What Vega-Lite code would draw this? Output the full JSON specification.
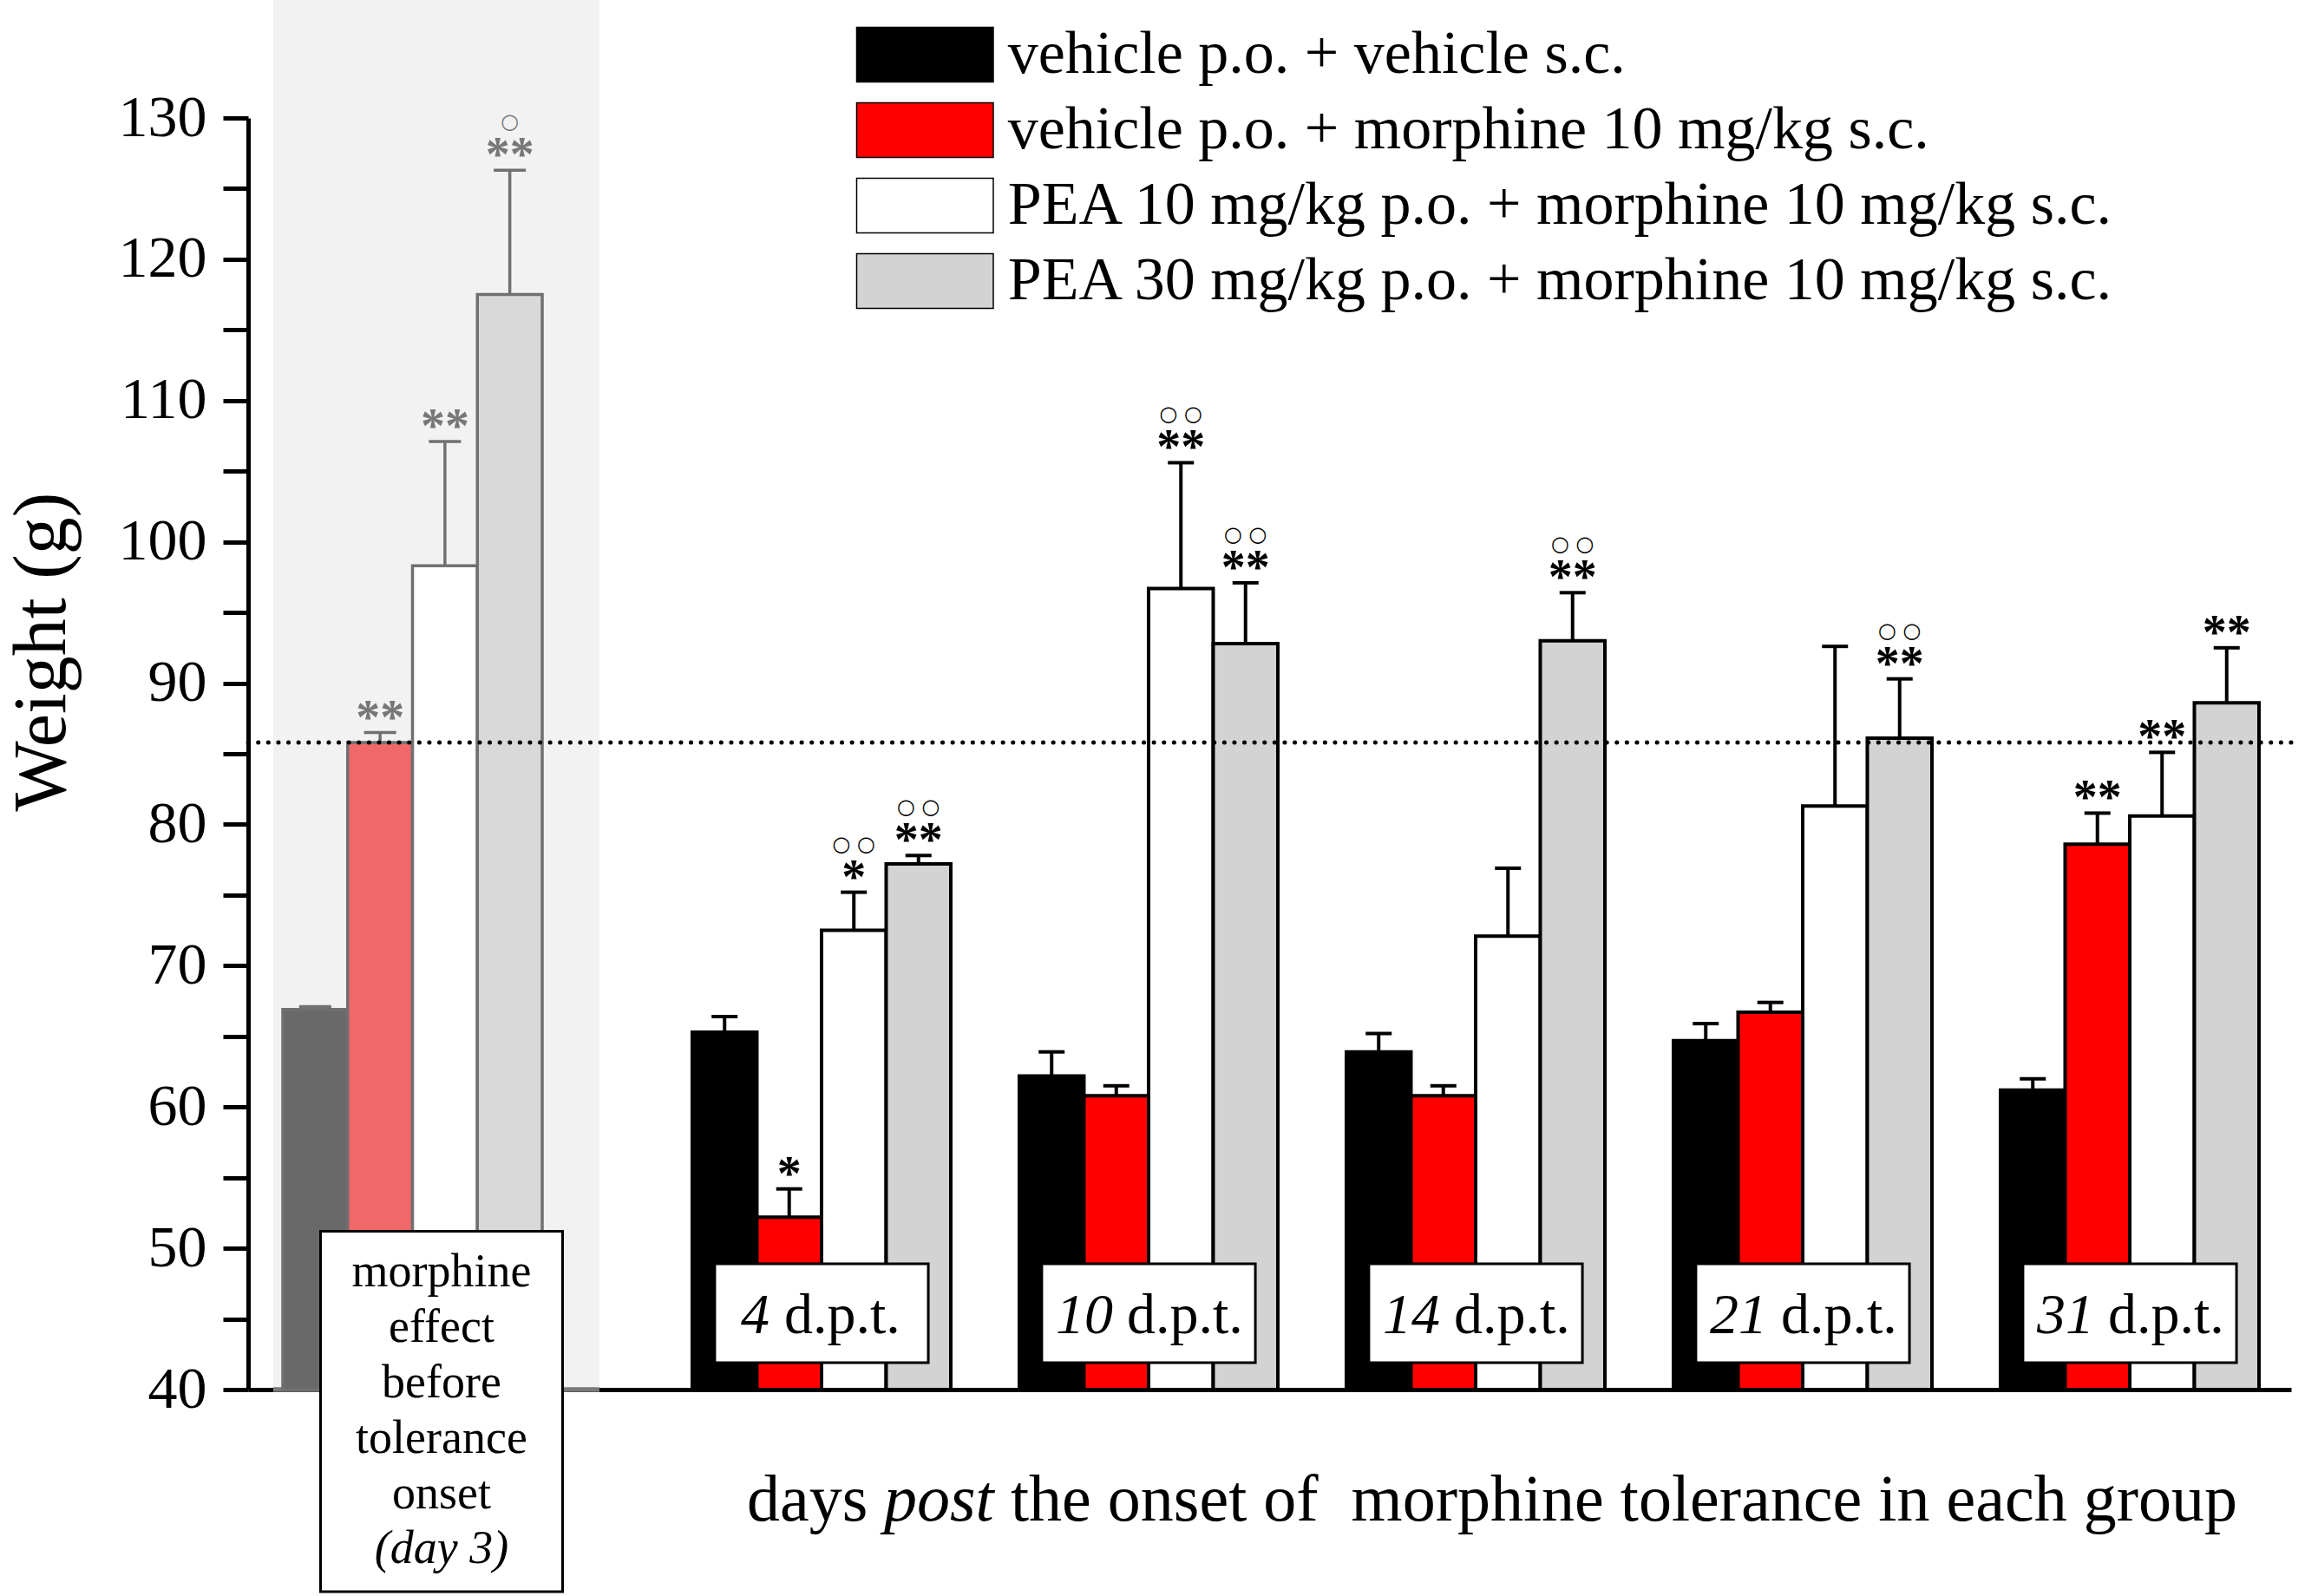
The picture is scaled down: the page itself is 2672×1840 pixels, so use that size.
{
  "$schema": "https://vega.github.io/schema/vega-lite/v6.json",
  "width": 2355,
  "height": 1466,
  "autosize": {"type": "none"},
  "padding": {"left": 286, "top": 136, "right": 31, "bottom": 238},
  "background": "white",
  "config": {
    "view": {"stroke": null},
    "text": {"font": "Liberation Serif", "color": "black"}
  },
  "datasets": {
    "day3": [
      {"day": "day 3", "treatment": "vehicle p.o. + vehicle s.c.", "mean": 66.9, "upper": 67.1, "sig": "", "circ": ""},
      {"day": "day 3", "treatment": "vehicle p.o. + morphine 10 mg/kg s.c.", "mean": 85.8, "upper": 86.5, "sig": "**", "circ": ""},
      {"day": "day 3", "treatment": "PEA 10 mg/kg p.o. + morphine 10 mg/kg s.c.", "mean": 98.3, "upper": 107.1, "sig": "**", "circ": ""},
      {"day": "day 3", "treatment": "PEA 30 mg/kg p.o. + morphine 10 mg/kg s.c.", "mean": 117.5, "upper": 126.3, "sig": "**", "circ": "○"}
    ],
    "later": [
      {"dpt": "4", "treatment": "vehicle p.o. + vehicle s.c.", "mean": 65.3, "upper": 66.4, "sig": "", "circ": ""},
      {"dpt": "4", "treatment": "vehicle p.o. + morphine 10 mg/kg s.c.", "mean": 52.2, "upper": 54.2, "sig": "*", "circ": ""},
      {"dpt": "4", "treatment": "PEA 10 mg/kg p.o. + morphine 10 mg/kg s.c.", "mean": 72.5, "upper": 75.2, "sig": "*", "circ": "○ ○"},
      {"dpt": "4", "treatment": "PEA 30 mg/kg p.o. + morphine 10 mg/kg s.c.", "mean": 77.2, "upper": 77.8, "sig": "**", "circ": "○ ○"},
      {"dpt": "10", "treatment": "vehicle p.o. + vehicle s.c.", "mean": 62.2, "upper": 63.9, "sig": "", "circ": ""},
      {"dpt": "10", "treatment": "vehicle p.o. + morphine 10 mg/kg s.c.", "mean": 60.8, "upper": 61.5, "sig": "", "circ": ""},
      {"dpt": "10", "treatment": "PEA 10 mg/kg p.o. + morphine 10 mg/kg s.c.", "mean": 96.7, "upper": 105.6, "sig": "**", "circ": "○ ○"},
      {"dpt": "10", "treatment": "PEA 30 mg/kg p.o. + morphine 10 mg/kg s.c.", "mean": 92.8, "upper": 97.1, "sig": "**", "circ": "○ ○"},
      {"dpt": "14", "treatment": "vehicle p.o. + vehicle s.c.", "mean": 63.9, "upper": 65.2, "sig": "", "circ": ""},
      {"dpt": "14", "treatment": "vehicle p.o. + morphine 10 mg/kg s.c.", "mean": 60.8, "upper": 61.5, "sig": "", "circ": ""},
      {"dpt": "14", "treatment": "PEA 10 mg/kg p.o. + morphine 10 mg/kg s.c.", "mean": 72.1, "upper": 76.9, "sig": "", "circ": ""},
      {"dpt": "14", "treatment": "PEA 30 mg/kg p.o. + morphine 10 mg/kg s.c.", "mean": 93.0, "upper": 96.4, "sig": "**", "circ": "○ ○"},
      {"dpt": "21", "treatment": "vehicle p.o. + vehicle s.c.", "mean": 64.7, "upper": 65.9, "sig": "", "circ": ""},
      {"dpt": "21", "treatment": "vehicle p.o. + morphine 10 mg/kg s.c.", "mean": 66.7, "upper": 67.4, "sig": "", "circ": ""},
      {"dpt": "21", "treatment": "PEA 10 mg/kg p.o. + morphine 10 mg/kg s.c.", "mean": 81.3, "upper": 92.6, "sig": "", "circ": ""},
      {"dpt": "21", "treatment": "PEA 30 mg/kg p.o. + morphine 10 mg/kg s.c.", "mean": 86.1, "upper": 90.3, "sig": "**", "circ": "○ ○"},
      {"dpt": "31", "treatment": "vehicle p.o. + vehicle s.c.", "mean": 61.2, "upper": 62.0, "sig": "", "circ": ""},
      {"dpt": "31", "treatment": "vehicle p.o. + morphine 10 mg/kg s.c.", "mean": 78.6, "upper": 80.8, "sig": "**", "circ": ""},
      {"dpt": "31", "treatment": "PEA 10 mg/kg p.o. + morphine 10 mg/kg s.c.", "mean": 80.6, "upper": 85.1, "sig": "**", "circ": ""},
      {"dpt": "31", "treatment": "PEA 30 mg/kg p.o. + morphine 10 mg/kg s.c.", "mean": 88.6, "upper": 92.5, "sig": "**", "circ": ""}
    ],
    "boxes": [
      {"dpt": "4"}, {"dpt": "10"}, {"dpt": "14"}, {"dpt": "21"}, {"dpt": "31"}
    ]
  },
  "layer": [
    {
      "data": {"name": "day3"},
      "encoding": {
        "x": {
          "field": "day", "type": "nominal",
          "scale": {"type": "band", "domain": ["day 3"], "range": [29, 405], "paddingInner": 0, "paddingOuter": 0},
          "axis": null
        }
      },
      "layer": [
        {
          "data": {"values": [{"day": "day 3"}]},
          "mark": {"type": "bar", "fill": "#f2f2f2"},
          "encoding": {
            "y": {"datum": 138.35, "title": "Weight (g)", "scale": {"domain": [40, 130], "zero": false, "nice": false}},
            "y2": {"datum": 40}
          }
        },
        {
          "data": {"values": [{"day": "day 3"}]},
          "mark": {"type": "bar", "fill": "#7a7a7a"},
          "encoding": {
            "y": {"datum": 40.17, "title": "Weight (g)", "scale": {"domain": [40, 130], "zero": false, "nice": false}},
            "y2": {"datum": 39.83}
          }
        },
        {
          "mark": {"type": "bar", "stroke": "#707070", "strokeWidth": 3.5},
          "encoding": {
            "xOffset": {
              "field": "treatment", "type": "nominal",
              "scale": {"type": "band", "domain": ["vehicle p.o. + vehicle s.c.", "vehicle p.o. + morphine 10 mg/kg s.c.", "PEA 10 mg/kg p.o. + morphine 10 mg/kg s.c.", "PEA 30 mg/kg p.o. + morphine 10 mg/kg s.c."], "paddingInner": 0, "paddingOuter": 0.515, "align": 0.143}
            },
            "y": {
              "field": "mean", "type": "quantitative", "title": "Weight (g)",
              "scale": {"domain": [40, 130], "zero": false, "nice": false},
              "axis": {
                "title": "Weight (g)",
                "values": [40, 45, 50, 55, 60, 65, 70, 75, 80, 85, 90, 95, 100, 105, 110, 115, 120, 125, 130],
                "labelExpr": "datum.value % 10 === 0 ? datum.label : ''",
                "tickSize": 29,
                "tickWidth": 5, "tickColor": "black",
                "domainColor": "black", "domainWidth": 5,
                "grid": false,
                "labelFont": "Liberation Serif", "labelFontSize": 68, "labelColor": "black", "labelPadding": 19,
                "titleFont": "Liberation Serif", "titleFontSize": 86, "titleFontWeight": "normal", "titleColor": "black", "titlePadding": 44,
                "titleY": 615,
                "encode": {"ticks": {"update": {"x2": {"signal": "datum.value % 10 === 0 ? -29 : -15"}}}}
              }
            },
            "y2": {"datum": 40},
            "fill": {
              "field": "treatment", "type": "nominal",
              "scale": {"domain": ["vehicle p.o. + vehicle s.c.", "vehicle p.o. + morphine 10 mg/kg s.c.", "PEA 10 mg/kg p.o. + morphine 10 mg/kg s.c.", "PEA 30 mg/kg p.o. + morphine 10 mg/kg s.c."], "range": ["#696969", "#f06868", "#ffffff", "#d9d9d9"]},
              "legend": null
            }
          }
        },
        {
          "mark": {"type": "rule", "color": "#707070", "strokeWidth": 3.5},
          "encoding": {
            "xOffset": {"field": "treatment", "type": "nominal"},
            "y": {"field": "mean", "type": "quantitative", "title": "Weight (g)", "scale": {"domain": [40, 130], "zero": false, "nice": false}},
            "y2": {"field": "upper"}
          }
        },
        {
          "mark": {"type": "tick", "orient": "horizontal", "size": 37, "thickness": 3.5, "color": "#707070", "opacity": 1},
          "encoding": {
            "xOffset": {"field": "treatment", "type": "nominal"},
            "y": {"field": "upper", "type": "quantitative", "title": "Weight (g)", "scale": {"domain": [40, 130], "zero": false, "nice": false}}
          }
        },
        {
          "mark": {"type": "text", "fontSize": 56, "fontWeight": "bold", "dy": 1, "baseline": "alphabetic", "color": "#777777"},
          "encoding": {
            "xOffset": {"field": "treatment", "type": "nominal"},
            "y": {"field": "upper", "type": "quantitative", "title": "Weight (g)", "scale": {"domain": [40, 130], "zero": false, "nice": false}},
            "text": {"field": "sig"}
          }
        },
        {
          "mark": {"type": "text", "font": "DejaVu Sans", "fontSize": 24, "dy": -48, "baseline": "alphabetic", "color": "#777777"},
          "encoding": {
            "xOffset": {"field": "treatment", "type": "nominal"},
            "y": {"field": "upper", "type": "quantitative", "title": "Weight (g)", "scale": {"domain": [40, 130], "zero": false, "nice": false}},
            "text": {"field": "circ"}
          }
        },
        {
          "data": {"values": [{"day": "day 3"}]},
          "mark": {"type": "bar", "fill": "white", "stroke": "black", "strokeWidth": 3, "xOffset": 6, "width": {"band": 0.742}},
          "encoding": {
            "y": {"datum": 51.2, "title": "Weight (g)", "scale": {"domain": [40, 130], "zero": false, "nice": false}},
            "y2": {"datum": 25.7}
          }
        },
        {
          "data": {"values": [{"day": "day 3"}]},
          "mark": {"type": "text", "fontSize": 54, "lineHeight": 64, "align": "center", "baseline": "alphabetic", "dx": 6,
                   "text": ["morphine", "effect", "before", "tolerance", "onset"]},
          "encoding": {
            "y": {"datum": 47.3, "title": "Weight (g)", "scale": {"domain": [40, 130], "zero": false, "nice": false}}
          }
        },
        {
          "data": {"values": [{"day": "day 3"}]},
          "mark": {"type": "text", "fontSize": 54, "fontStyle": "italic", "align": "center", "baseline": "alphabetic", "dx": 6, "text": "(day 3)"},
          "encoding": {
            "y": {"datum": 27.7, "title": "Weight (g)", "scale": {"domain": [40, 130], "zero": false, "nice": false}}
          }
        }
      ]
    },
    {
      "data": {"name": "later"},
      "encoding": {
        "x": {
          "field": "dpt", "type": "nominal",
          "scale": {"type": "band", "domain": ["4", "10", "14", "21", "31"], "paddingInner": 0.2095, "paddingOuter": 0.7281, "align": 0.9326},
          "axis": {"labels": false, "ticks": false, "title": null, "domainColor": "black", "domainWidth": 5, "grid": false}
        }
      },
      "layer": [
        {
          "mark": {"type": "bar", "stroke": "black", "strokeWidth": 4},
          "encoding": {
            "xOffset": {
              "field": "treatment", "type": "nominal",
              "scale": {"type": "band", "domain": ["vehicle p.o. + vehicle s.c.", "vehicle p.o. + morphine 10 mg/kg s.c.", "PEA 10 mg/kg p.o. + morphine 10 mg/kg s.c.", "PEA 30 mg/kg p.o. + morphine 10 mg/kg s.c."], "paddingInner": 0, "paddingOuter": 0}
            },
            "y": {"field": "mean", "type": "quantitative", "title": "Weight (g)", "scale": {"domain": [40, 130], "zero": false, "nice": false}},
            "y2": {"datum": 40},
            "fill": {
              "field": "treatment", "type": "nominal",
              "scale": {"domain": ["vehicle p.o. + vehicle s.c.", "vehicle p.o. + morphine 10 mg/kg s.c.", "PEA 10 mg/kg p.o. + morphine 10 mg/kg s.c.", "PEA 30 mg/kg p.o. + morphine 10 mg/kg s.c."], "range": ["#000000", "#ff0000", "#ffffff", "#d3d3d3"]},
              "legend": {
                "orient": "none", "legendX": 698, "legendY": -108, "title": null, "padding": 0,
                "symbolType": "M-2.5,-1L2.5,-1L2.5,1L-2.5,1Z", "symbolSize": 3969, "symbolOffset": 47.25,
                "labelFont": "Liberation Serif", "labelFontSize": 70, "labelColor": "black", "labelLimit": 0, "labelOffset": 60.5,
                "rowPadding": 17,
                "encode": {"symbols": {"update": {"stroke": {"value": "black"}, "strokeWidth": {"value": 4}, "opacity": {"value": 1}}}}
              }
            }
          }
        },
        {
          "mark": {"type": "rule", "color": "black", "strokeWidth": 4},
          "encoding": {
            "xOffset": {"field": "treatment", "type": "nominal"},
            "y": {"field": "mean", "type": "quantitative", "title": "Weight (g)", "scale": {"domain": [40, 130], "zero": false, "nice": false}},
            "y2": {"field": "upper"}
          }
        },
        {
          "mark": {"type": "tick", "orient": "horizontal", "size": 30, "thickness": 4, "color": "black", "opacity": 1},
          "encoding": {
            "xOffset": {"field": "treatment", "type": "nominal"},
            "y": {"field": "upper", "type": "quantitative", "title": "Weight (g)", "scale": {"domain": [40, 130], "zero": false, "nice": false}}
          }
        },
        {
          "mark": {"type": "text", "fontSize": 56, "fontWeight": "bold", "dy": 1, "baseline": "alphabetic"},
          "encoding": {
            "xOffset": {"field": "treatment", "type": "nominal"},
            "y": {"field": "upper", "type": "quantitative", "title": "Weight (g)", "scale": {"domain": [40, 130], "zero": false, "nice": false}},
            "text": {"field": "sig"}
          }
        },
        {
          "mark": {"type": "text", "font": "DejaVu Sans", "fontSize": 24, "dy": -48, "baseline": "alphabetic"},
          "encoding": {
            "xOffset": {"field": "treatment", "type": "nominal"},
            "y": {"field": "upper", "type": "quantitative", "title": "Weight (g)", "scale": {"domain": [40, 130], "zero": false, "nice": false}},
            "text": {"field": "circ"}
          }
        },
        {
          "data": {"name": "boxes"},
          "mark": {"type": "bar", "fill": "white", "stroke": "black", "strokeWidth": 3, "width": {"band": 0.826}},
          "encoding": {
            "y": {"datum": 48.9, "title": "Weight (g)", "scale": {"domain": [40, 130], "zero": false, "nice": false}},
            "y2": {"datum": 41.9}
          }
        },
        {
          "data": {"name": "boxes"},
          "transform": [{"filter": "datum.dpt != '4'"}],
          "mark": {"type": "text", "fontSize": 66, "fontStyle": "italic", "align": "right", "baseline": "alphabetic", "dx": -41},
          "encoding": {
            "y": {"datum": 44.0, "title": "Weight (g)", "scale": {"domain": [40, 130], "zero": false, "nice": false}},
            "text": {"field": "dpt"}
          }
        },
        {
          "data": {"name": "boxes"},
          "transform": [{"filter": "datum.dpt != '4'"}],
          "mark": {"type": "text", "fontSize": 66, "align": "left", "baseline": "alphabetic", "dx": -25, "text": "d.p.t."},
          "encoding": {
            "y": {"datum": 44.0, "title": "Weight (g)", "scale": {"domain": [40, 130], "zero": false, "nice": false}}
          }
        },
        {
          "data": {"name": "boxes"},
          "transform": [{"filter": "datum.dpt == '4'"}],
          "mark": {"type": "text", "fontSize": 66, "fontStyle": "italic", "align": "right", "baseline": "alphabetic", "dx": -60},
          "encoding": {
            "y": {"datum": 44.0, "title": "Weight (g)", "scale": {"domain": [40, 130], "zero": false, "nice": false}},
            "text": {"field": "dpt"}
          }
        },
        {
          "data": {"name": "boxes"},
          "transform": [{"filter": "datum.dpt == '4'"}],
          "mark": {"type": "text", "fontSize": 66, "align": "left", "baseline": "alphabetic", "dx": -43, "text": "d.p.t."},
          "encoding": {
            "y": {"datum": 44.0, "title": "Weight (g)", "scale": {"domain": [40, 130], "zero": false, "nice": false}}
          }
        },
        {
          "data": {"name": "boxes"},
          "transform": [{"filter": "datum.dpt == '4'"}],
          "mark": {"type": "text", "fontSize": 76, "align": "left", "baseline": "alphabetic", "dx": -86, "text": "days"},
          "encoding": {
            "y": {"datum": 30.7, "title": "Weight (g)", "scale": {"domain": [40, 130], "zero": false, "nice": false}}
          }
        },
        {
          "data": {"name": "boxes"},
          "transform": [{"filter": "datum.dpt == '4'"}],
          "mark": {"type": "text", "fontSize": 76, "fontStyle": "italic", "align": "left", "baseline": "alphabetic", "dx": 72, "text": "post"},
          "encoding": {
            "y": {"datum": 30.7, "title": "Weight (g)", "scale": {"domain": [40, 130], "zero": false, "nice": false}}
          }
        },
        {
          "data": {"name": "boxes"},
          "transform": [{"filter": "datum.dpt == '4'"}],
          "mark": {"type": "text", "fontSize": 76, "align": "left", "baseline": "alphabetic", "dx": 218, "text": "the onset of\u00a0 morphine tolerance in each group"},
          "encoding": {
            "y": {"datum": 30.7, "title": "Weight (g)", "scale": {"domain": [40, 130], "zero": false, "nice": false}}
          }
        }
      ]
    },
    {
      "data": {"values": [{}]},
      "mark": {"type": "rule", "color": "black", "strokeWidth": 5, "strokeDash": [0.1, 11.5], "strokeCap": "round"},
      "encoding": {
        "y": {"datum": 85.8, "title": "Weight (g)", "scale": {"domain": [40, 130], "zero": false, "nice": false}}
      }
    }
  ],
  "resolve": {
    "scale": {"x": "independent", "xOffset": "independent", "fill": "independent"},
    "axis": {"x": "independent"}
  }
}
